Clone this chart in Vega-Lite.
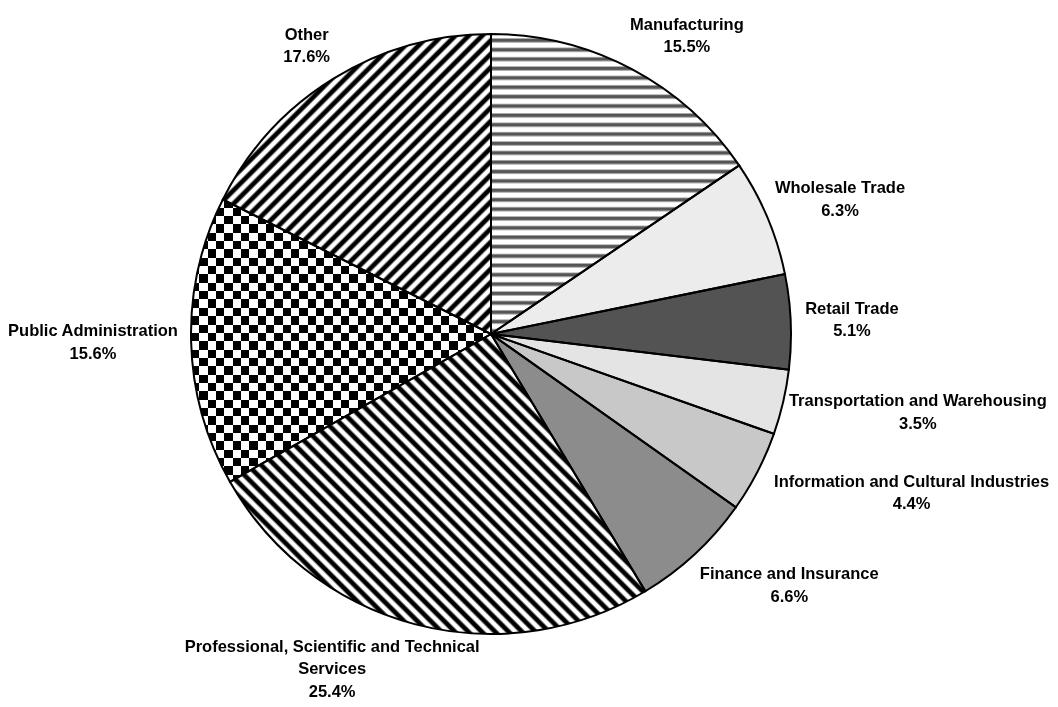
{
  "$schema": "https://vega.github.io/schema/vega-lite/v6.json",
  "width": 982,
  "height": 668,
  "autosize": "none",
  "padding": {"left": 0, "top": 0, "right": 76, "bottom": 39},
  "background": "white",
  "config": {"view": {"stroke": null}},
  "data": {
    "values": [
      {"category": "Manufacturing", "share": 15.5, "label": ["Manufacturing", "15.5%"]},
      {"category": "Wholesale Trade", "share": 6.3, "label": ["Wholesale Trade", "6.3%"]},
      {"category": "Retail Trade", "share": 5.1, "label": ["Retail Trade", "5.1%"]},
      {"category": "Transportation and Warehousing", "share": 3.5, "label": ["Transportation and Warehousing", "3.5%"]},
      {"category": "Information and Cultural Industries", "share": 4.4, "label": ["Information and Cultural Industries", "4.4%"]},
      {"category": "Finance and Insurance", "share": 6.6, "label": ["Finance and Insurance", "6.6%"]},
      {"category": "Professional, Scientific and Technical Services", "share": 25.4, "label": ["Professional, Scientific and Technical", "Services", "25.4%"]},
      {"category": "Public Administration", "share": 15.6, "label": ["Public Administration", "15.6%"]},
      {"category": "Other", "share": 17.6, "label": ["Other", "17.6%"]}
    ]
  },
  "transform": [
    {"window": [{"op": "row_number", "as": "rank"}]}
  ],
  "layer": [
    {
      "mark": {"type": "arc", "radius": 300, "strokeWidth": 0},
      "encoding": {
        "theta": {"field": "share", "type": "quantitative", "stack": true},
        "order": {"field": "rank", "type": "quantitative"},
        "fill": {
          "condition": [
            {"test": "datum.category === 'Manufacturing'", "value": {"gradient": "linear", "x1": 0, "y1": 0, "x2": 0, "y2": 1, "stops": [
              {"offset": 0, "color": "#fff"}, {"offset": 0.012, "color": "#fff"}, {"offset": 0.018, "color": "#555"}, {"offset": 0.024, "color": "#555"},
              {"offset": 0.03125, "color": "#fff"}, {"offset": 0.04325, "color": "#fff"}, {"offset": 0.04925, "color": "#555"}, {"offset": 0.05525, "color": "#555"},
              {"offset": 0.0625, "color": "#fff"}, {"offset": 0.0745, "color": "#fff"}, {"offset": 0.0805, "color": "#555"}, {"offset": 0.0865, "color": "#555"},
              {"offset": 0.09375, "color": "#fff"}, {"offset": 0.10575, "color": "#fff"}, {"offset": 0.11175, "color": "#555"}, {"offset": 0.11775, "color": "#555"},
              {"offset": 0.125, "color": "#fff"}, {"offset": 0.137, "color": "#fff"}, {"offset": 0.143, "color": "#555"}, {"offset": 0.149, "color": "#555"},
              {"offset": 0.15625, "color": "#fff"}, {"offset": 0.16825, "color": "#fff"}, {"offset": 0.17425, "color": "#555"}, {"offset": 0.18025, "color": "#555"},
              {"offset": 0.1875, "color": "#fff"}, {"offset": 0.1995, "color": "#fff"}, {"offset": 0.2055, "color": "#555"}, {"offset": 0.2115, "color": "#555"},
              {"offset": 0.21875, "color": "#fff"}, {"offset": 0.23075, "color": "#fff"}, {"offset": 0.23675, "color": "#555"}, {"offset": 0.24275, "color": "#555"},
              {"offset": 0.25, "color": "#fff"}, {"offset": 0.262, "color": "#fff"}, {"offset": 0.268, "color": "#555"}, {"offset": 0.274, "color": "#555"},
              {"offset": 0.28125, "color": "#fff"}, {"offset": 0.29325, "color": "#fff"}, {"offset": 0.29925, "color": "#555"}, {"offset": 0.30525, "color": "#555"},
              {"offset": 0.3125, "color": "#fff"}, {"offset": 0.3245, "color": "#fff"}, {"offset": 0.3305, "color": "#555"}, {"offset": 0.3365, "color": "#555"},
              {"offset": 0.34375, "color": "#fff"}, {"offset": 0.35575, "color": "#fff"}, {"offset": 0.36175, "color": "#555"}, {"offset": 0.36775, "color": "#555"},
              {"offset": 0.375, "color": "#fff"}, {"offset": 0.387, "color": "#fff"}, {"offset": 0.393, "color": "#555"}, {"offset": 0.399, "color": "#555"},
              {"offset": 0.40625, "color": "#fff"}, {"offset": 0.41825, "color": "#fff"}, {"offset": 0.42425, "color": "#555"}, {"offset": 0.43025, "color": "#555"},
              {"offset": 0.4375, "color": "#fff"}, {"offset": 0.4495, "color": "#fff"}, {"offset": 0.4555, "color": "#555"}, {"offset": 0.4615, "color": "#555"},
              {"offset": 0.46875, "color": "#fff"}, {"offset": 0.48075, "color": "#fff"}, {"offset": 0.48675, "color": "#555"}, {"offset": 0.49275, "color": "#555"},
              {"offset": 0.5, "color": "#fff"}, {"offset": 0.512, "color": "#fff"}, {"offset": 0.518, "color": "#555"}, {"offset": 0.524, "color": "#555"},
              {"offset": 0.53125, "color": "#fff"}, {"offset": 0.54325, "color": "#fff"}, {"offset": 0.54925, "color": "#555"}, {"offset": 0.55525, "color": "#555"},
              {"offset": 0.5625, "color": "#fff"}, {"offset": 0.5745, "color": "#fff"}, {"offset": 0.5805, "color": "#555"}, {"offset": 0.5865, "color": "#555"},
              {"offset": 0.59375, "color": "#fff"}, {"offset": 0.60575, "color": "#fff"}, {"offset": 0.61175, "color": "#555"}, {"offset": 0.61775, "color": "#555"},
              {"offset": 0.625, "color": "#fff"}, {"offset": 0.637, "color": "#fff"}, {"offset": 0.643, "color": "#555"}, {"offset": 0.649, "color": "#555"},
              {"offset": 0.65625, "color": "#fff"}, {"offset": 0.66825, "color": "#fff"}, {"offset": 0.67425, "color": "#555"}, {"offset": 0.68025, "color": "#555"},
              {"offset": 0.6875, "color": "#fff"}, {"offset": 0.6995, "color": "#fff"}, {"offset": 0.7055, "color": "#555"}, {"offset": 0.7115, "color": "#555"},
              {"offset": 0.71875, "color": "#fff"}, {"offset": 0.73075, "color": "#fff"}, {"offset": 0.73675, "color": "#555"}, {"offset": 0.74275, "color": "#555"},
              {"offset": 0.75, "color": "#fff"}, {"offset": 0.762, "color": "#fff"}, {"offset": 0.768, "color": "#555"}, {"offset": 0.774, "color": "#555"},
              {"offset": 0.78125, "color": "#fff"}, {"offset": 0.79325, "color": "#fff"}, {"offset": 0.79925, "color": "#555"}, {"offset": 0.80525, "color": "#555"},
              {"offset": 0.8125, "color": "#fff"}, {"offset": 0.8245, "color": "#fff"}, {"offset": 0.8305, "color": "#555"}, {"offset": 0.8365, "color": "#555"},
              {"offset": 0.84375, "color": "#fff"}, {"offset": 0.85575, "color": "#fff"}, {"offset": 0.86175, "color": "#555"}, {"offset": 0.86775, "color": "#555"},
              {"offset": 0.875, "color": "#fff"}, {"offset": 0.887, "color": "#fff"}, {"offset": 0.893, "color": "#555"}, {"offset": 0.899, "color": "#555"},
              {"offset": 0.90625, "color": "#fff"}, {"offset": 0.91825, "color": "#fff"}, {"offset": 0.92425, "color": "#555"}, {"offset": 0.93025, "color": "#555"},
              {"offset": 0.9375, "color": "#fff"}, {"offset": 0.9495, "color": "#fff"}, {"offset": 0.9555, "color": "#555"}, {"offset": 0.9615, "color": "#555"},
              {"offset": 0.96875, "color": "#fff"}, {"offset": 0.98075, "color": "#fff"}, {"offset": 0.98675, "color": "#555"}, {"offset": 0.99275, "color": "#555"},
              {"offset": 1, "color": "#fff"}
            ]}},
            {"test": "datum.category === 'Wholesale Trade'", "value": "#ececec"},
            {"test": "datum.category === 'Retail Trade'", "value": "#535353"},
            {"test": "datum.category === 'Transportation and Warehousing'", "value": "#e4e4e4"},
            {"test": "datum.category === 'Information and Cultural Industries'", "value": "#c8c8c8"},
            {"test": "datum.category === 'Finance and Insurance'", "value": "#8c8c8c"},
            {"test": "datum.category === 'Professional, Scientific and Technical Services'", "value": {"gradient": "linear", "x1": 0, "y1": 0.563, "x2": 0.85, "y2": -0.051, "stops": [
              {"offset": 0, "color": "#000"}, {"offset": 0.0075, "color": "#000"}, {"offset": 0.0125, "color": "#fff"}, {"offset": 0.02, "color": "#fff"},
              {"offset": 0.025, "color": "#000"}, {"offset": 0.0325, "color": "#000"}, {"offset": 0.0375, "color": "#fff"}, {"offset": 0.045, "color": "#fff"},
              {"offset": 0.05, "color": "#000"}, {"offset": 0.0575, "color": "#000"}, {"offset": 0.0625, "color": "#fff"}, {"offset": 0.07, "color": "#fff"},
              {"offset": 0.075, "color": "#000"}, {"offset": 0.0825, "color": "#000"}, {"offset": 0.0875, "color": "#fff"}, {"offset": 0.095, "color": "#fff"},
              {"offset": 0.1, "color": "#000"}, {"offset": 0.1075, "color": "#000"}, {"offset": 0.1125, "color": "#fff"}, {"offset": 0.12, "color": "#fff"},
              {"offset": 0.125, "color": "#000"}, {"offset": 0.1325, "color": "#000"}, {"offset": 0.1375, "color": "#fff"}, {"offset": 0.145, "color": "#fff"},
              {"offset": 0.15, "color": "#000"}, {"offset": 0.1575, "color": "#000"}, {"offset": 0.1625, "color": "#fff"}, {"offset": 0.17, "color": "#fff"},
              {"offset": 0.175, "color": "#000"}, {"offset": 0.1825, "color": "#000"}, {"offset": 0.1875, "color": "#fff"}, {"offset": 0.195, "color": "#fff"},
              {"offset": 0.2, "color": "#000"}, {"offset": 0.2075, "color": "#000"}, {"offset": 0.2125, "color": "#fff"}, {"offset": 0.22, "color": "#fff"},
              {"offset": 0.225, "color": "#000"}, {"offset": 0.2325, "color": "#000"}, {"offset": 0.2375, "color": "#fff"}, {"offset": 0.245, "color": "#fff"},
              {"offset": 0.25, "color": "#000"}, {"offset": 0.2575, "color": "#000"}, {"offset": 0.2625, "color": "#fff"}, {"offset": 0.27, "color": "#fff"},
              {"offset": 0.275, "color": "#000"}, {"offset": 0.2825, "color": "#000"}, {"offset": 0.2875, "color": "#fff"}, {"offset": 0.295, "color": "#fff"},
              {"offset": 0.3, "color": "#000"}, {"offset": 0.3075, "color": "#000"}, {"offset": 0.3125, "color": "#fff"}, {"offset": 0.32, "color": "#fff"},
              {"offset": 0.325, "color": "#000"}, {"offset": 0.3325, "color": "#000"}, {"offset": 0.3375, "color": "#fff"}, {"offset": 0.345, "color": "#fff"},
              {"offset": 0.35, "color": "#000"}, {"offset": 0.3575, "color": "#000"}, {"offset": 0.3625, "color": "#fff"}, {"offset": 0.37, "color": "#fff"},
              {"offset": 0.375, "color": "#000"}, {"offset": 0.3825, "color": "#000"}, {"offset": 0.3875, "color": "#fff"}, {"offset": 0.395, "color": "#fff"},
              {"offset": 0.4, "color": "#000"}, {"offset": 0.4075, "color": "#000"}, {"offset": 0.4125, "color": "#fff"}, {"offset": 0.42, "color": "#fff"},
              {"offset": 0.425, "color": "#000"}, {"offset": 0.4325, "color": "#000"}, {"offset": 0.4375, "color": "#fff"}, {"offset": 0.445, "color": "#fff"},
              {"offset": 0.45, "color": "#000"}, {"offset": 0.4575, "color": "#000"}, {"offset": 0.4625, "color": "#fff"}, {"offset": 0.47, "color": "#fff"},
              {"offset": 0.475, "color": "#000"}, {"offset": 0.4825, "color": "#000"}, {"offset": 0.4875, "color": "#fff"}, {"offset": 0.495, "color": "#fff"},
              {"offset": 0.5, "color": "#000"}, {"offset": 0.5075, "color": "#000"}, {"offset": 0.5125, "color": "#fff"}, {"offset": 0.52, "color": "#fff"},
              {"offset": 0.525, "color": "#000"}, {"offset": 0.5325, "color": "#000"}, {"offset": 0.5375, "color": "#fff"}, {"offset": 0.545, "color": "#fff"},
              {"offset": 0.55, "color": "#000"}, {"offset": 0.5575, "color": "#000"}, {"offset": 0.5625, "color": "#fff"}, {"offset": 0.57, "color": "#fff"},
              {"offset": 0.575, "color": "#000"}, {"offset": 0.5825, "color": "#000"}, {"offset": 0.5875, "color": "#fff"}, {"offset": 0.595, "color": "#fff"},
              {"offset": 0.6, "color": "#000"}, {"offset": 0.6075, "color": "#000"}, {"offset": 0.6125, "color": "#fff"}, {"offset": 0.62, "color": "#fff"},
              {"offset": 0.625, "color": "#000"}, {"offset": 0.6325, "color": "#000"}, {"offset": 0.6375, "color": "#fff"}, {"offset": 0.645, "color": "#fff"},
              {"offset": 0.65, "color": "#000"}, {"offset": 0.6575, "color": "#000"}, {"offset": 0.6625, "color": "#fff"}, {"offset": 0.67, "color": "#fff"},
              {"offset": 0.675, "color": "#000"}, {"offset": 0.6825, "color": "#000"}, {"offset": 0.6875, "color": "#fff"}, {"offset": 0.695, "color": "#fff"},
              {"offset": 0.7, "color": "#000"}, {"offset": 0.7075, "color": "#000"}, {"offset": 0.7125, "color": "#fff"}, {"offset": 0.72, "color": "#fff"},
              {"offset": 0.725, "color": "#000"}, {"offset": 0.7325, "color": "#000"}, {"offset": 0.7375, "color": "#fff"}, {"offset": 0.745, "color": "#fff"},
              {"offset": 0.75, "color": "#000"}, {"offset": 0.7575, "color": "#000"}, {"offset": 0.7625, "color": "#fff"}, {"offset": 0.77, "color": "#fff"},
              {"offset": 0.775, "color": "#000"}, {"offset": 0.7825, "color": "#000"}, {"offset": 0.7875, "color": "#fff"}, {"offset": 0.795, "color": "#fff"},
              {"offset": 0.8, "color": "#000"}, {"offset": 0.8075, "color": "#000"}, {"offset": 0.8125, "color": "#fff"}, {"offset": 0.82, "color": "#fff"},
              {"offset": 0.825, "color": "#000"}, {"offset": 0.8325, "color": "#000"}, {"offset": 0.8375, "color": "#fff"}, {"offset": 0.845, "color": "#fff"},
              {"offset": 0.85, "color": "#000"}, {"offset": 0.8575, "color": "#000"}, {"offset": 0.8625, "color": "#fff"}, {"offset": 0.87, "color": "#fff"},
              {"offset": 0.875, "color": "#000"}, {"offset": 0.8825, "color": "#000"}, {"offset": 0.8875, "color": "#fff"}, {"offset": 0.895, "color": "#fff"},
              {"offset": 0.9, "color": "#000"}
            ]}},
            {"test": "datum.category === 'Public Administration'", "value": {"gradient": "linear", "x1": 0, "y1": 0, "x2": 1, "y2": 0, "stops": [
              {"offset": 0, "color": "#000"}, {"offset": 0.02778, "color": "#000"}, {"offset": 0.02778, "color": "#fff"}, {"offset": 0.05556, "color": "#fff"},
              {"offset": 0.05556, "color": "#000"}, {"offset": 0.08333, "color": "#000"}, {"offset": 0.08333, "color": "#fff"}, {"offset": 0.11111, "color": "#fff"},
              {"offset": 0.11111, "color": "#000"}, {"offset": 0.13889, "color": "#000"}, {"offset": 0.13889, "color": "#fff"}, {"offset": 0.16667, "color": "#fff"},
              {"offset": 0.16667, "color": "#000"}, {"offset": 0.19444, "color": "#000"}, {"offset": 0.19444, "color": "#fff"}, {"offset": 0.22222, "color": "#fff"},
              {"offset": 0.22222, "color": "#000"}, {"offset": 0.25, "color": "#000"}, {"offset": 0.25, "color": "#fff"}, {"offset": 0.27778, "color": "#fff"},
              {"offset": 0.27778, "color": "#000"}, {"offset": 0.30556, "color": "#000"}, {"offset": 0.30556, "color": "#fff"}, {"offset": 0.33333, "color": "#fff"},
              {"offset": 0.33333, "color": "#000"}, {"offset": 0.36111, "color": "#000"}, {"offset": 0.36111, "color": "#fff"}, {"offset": 0.38889, "color": "#fff"},
              {"offset": 0.38889, "color": "#000"}, {"offset": 0.41667, "color": "#000"}, {"offset": 0.41667, "color": "#fff"}, {"offset": 0.44444, "color": "#fff"},
              {"offset": 0.44444, "color": "#000"}, {"offset": 0.47222, "color": "#000"}, {"offset": 0.47222, "color": "#fff"}, {"offset": 0.5, "color": "#fff"},
              {"offset": 0.5, "color": "#000"}, {"offset": 0.52778, "color": "#000"}, {"offset": 0.52778, "color": "#fff"}, {"offset": 0.55556, "color": "#fff"},
              {"offset": 0.55556, "color": "#000"}, {"offset": 0.58333, "color": "#000"}, {"offset": 0.58333, "color": "#fff"}, {"offset": 0.61111, "color": "#fff"},
              {"offset": 0.61111, "color": "#000"}, {"offset": 0.63889, "color": "#000"}, {"offset": 0.63889, "color": "#fff"}, {"offset": 0.66667, "color": "#fff"},
              {"offset": 0.66667, "color": "#000"}, {"offset": 0.69444, "color": "#000"}, {"offset": 0.69444, "color": "#fff"}, {"offset": 0.72222, "color": "#fff"},
              {"offset": 0.72222, "color": "#000"}, {"offset": 0.75, "color": "#000"}, {"offset": 0.75, "color": "#fff"}, {"offset": 0.77778, "color": "#fff"},
              {"offset": 0.77778, "color": "#000"}, {"offset": 0.80556, "color": "#000"}, {"offset": 0.80556, "color": "#fff"}, {"offset": 0.83333, "color": "#fff"},
              {"offset": 0.83333, "color": "#000"}, {"offset": 0.86111, "color": "#000"}, {"offset": 0.86111, "color": "#fff"}, {"offset": 0.88889, "color": "#fff"},
              {"offset": 0.88889, "color": "#000"}, {"offset": 0.91667, "color": "#000"}, {"offset": 0.91667, "color": "#fff"}, {"offset": 0.94444, "color": "#fff"},
              {"offset": 0.94444, "color": "#000"}, {"offset": 0.97222, "color": "#000"}, {"offset": 0.97222, "color": "#fff"}, {"offset": 1, "color": "#fff"}
            ]}},
            {"test": "datum.category === 'Other'", "value": {"gradient": "linear", "x1": 0, "y1": 0.4603, "x2": 0.89, "y2": 1.456, "stops": [
              {"offset": 0, "color": "#000"}, {"offset": 0.0075, "color": "#000"}, {"offset": 0.0125, "color": "#fff"}, {"offset": 0.02, "color": "#fff"},
              {"offset": 0.025, "color": "#000"}, {"offset": 0.0325, "color": "#000"}, {"offset": 0.0375, "color": "#fff"}, {"offset": 0.045, "color": "#fff"},
              {"offset": 0.05, "color": "#000"}, {"offset": 0.0575, "color": "#000"}, {"offset": 0.0625, "color": "#fff"}, {"offset": 0.07, "color": "#fff"},
              {"offset": 0.075, "color": "#000"}, {"offset": 0.0825, "color": "#000"}, {"offset": 0.0875, "color": "#fff"}, {"offset": 0.095, "color": "#fff"},
              {"offset": 0.1, "color": "#000"}, {"offset": 0.1075, "color": "#000"}, {"offset": 0.1125, "color": "#fff"}, {"offset": 0.12, "color": "#fff"},
              {"offset": 0.125, "color": "#000"}, {"offset": 0.1325, "color": "#000"}, {"offset": 0.1375, "color": "#fff"}, {"offset": 0.145, "color": "#fff"},
              {"offset": 0.15, "color": "#000"}, {"offset": 0.1575, "color": "#000"}, {"offset": 0.1625, "color": "#fff"}, {"offset": 0.17, "color": "#fff"},
              {"offset": 0.175, "color": "#000"}, {"offset": 0.1825, "color": "#000"}, {"offset": 0.1875, "color": "#fff"}, {"offset": 0.195, "color": "#fff"},
              {"offset": 0.2, "color": "#000"}, {"offset": 0.2075, "color": "#000"}, {"offset": 0.2125, "color": "#fff"}, {"offset": 0.22, "color": "#fff"},
              {"offset": 0.225, "color": "#000"}, {"offset": 0.2325, "color": "#000"}, {"offset": 0.2375, "color": "#fff"}, {"offset": 0.245, "color": "#fff"},
              {"offset": 0.25, "color": "#000"}, {"offset": 0.2575, "color": "#000"}, {"offset": 0.2625, "color": "#fff"}, {"offset": 0.27, "color": "#fff"},
              {"offset": 0.275, "color": "#000"}, {"offset": 0.2825, "color": "#000"}, {"offset": 0.2875, "color": "#fff"}, {"offset": 0.295, "color": "#fff"},
              {"offset": 0.3, "color": "#000"}, {"offset": 0.3075, "color": "#000"}, {"offset": 0.3125, "color": "#fff"}, {"offset": 0.32, "color": "#fff"},
              {"offset": 0.325, "color": "#000"}, {"offset": 0.3325, "color": "#000"}, {"offset": 0.3375, "color": "#fff"}, {"offset": 0.345, "color": "#fff"},
              {"offset": 0.35, "color": "#000"}, {"offset": 0.3575, "color": "#000"}, {"offset": 0.3625, "color": "#fff"}, {"offset": 0.37, "color": "#fff"},
              {"offset": 0.375, "color": "#000"}, {"offset": 0.3825, "color": "#000"}, {"offset": 0.3875, "color": "#fff"}, {"offset": 0.395, "color": "#fff"},
              {"offset": 0.4, "color": "#000"}, {"offset": 0.4075, "color": "#000"}, {"offset": 0.4125, "color": "#fff"}, {"offset": 0.42, "color": "#fff"},
              {"offset": 0.425, "color": "#000"}, {"offset": 0.4325, "color": "#000"}, {"offset": 0.4375, "color": "#fff"}, {"offset": 0.445, "color": "#fff"},
              {"offset": 0.45, "color": "#000"}, {"offset": 0.4575, "color": "#000"}, {"offset": 0.4625, "color": "#fff"}, {"offset": 0.47, "color": "#fff"},
              {"offset": 0.475, "color": "#000"}, {"offset": 0.4825, "color": "#000"}, {"offset": 0.4875, "color": "#fff"}, {"offset": 0.495, "color": "#fff"},
              {"offset": 0.5, "color": "#000"}, {"offset": 0.5075, "color": "#000"}, {"offset": 0.5125, "color": "#fff"}, {"offset": 0.52, "color": "#fff"},
              {"offset": 0.525, "color": "#000"}, {"offset": 0.5325, "color": "#000"}, {"offset": 0.5375, "color": "#fff"}, {"offset": 0.545, "color": "#fff"},
              {"offset": 0.55, "color": "#000"}, {"offset": 0.5575, "color": "#000"}, {"offset": 0.5625, "color": "#fff"}, {"offset": 0.57, "color": "#fff"},
              {"offset": 0.575, "color": "#000"}, {"offset": 0.5825, "color": "#000"}, {"offset": 0.5875, "color": "#fff"}, {"offset": 0.595, "color": "#fff"},
              {"offset": 0.6, "color": "#000"}, {"offset": 0.6075, "color": "#000"}, {"offset": 0.6125, "color": "#fff"}, {"offset": 0.62, "color": "#fff"},
              {"offset": 0.625, "color": "#000"}, {"offset": 0.6325, "color": "#000"}, {"offset": 0.6375, "color": "#fff"}, {"offset": 0.645, "color": "#fff"},
              {"offset": 0.65, "color": "#000"}, {"offset": 0.6575, "color": "#000"}, {"offset": 0.6625, "color": "#fff"}, {"offset": 0.67, "color": "#fff"},
              {"offset": 0.675, "color": "#000"}, {"offset": 0.6825, "color": "#000"}, {"offset": 0.6875, "color": "#fff"}, {"offset": 0.695, "color": "#fff"},
              {"offset": 0.7, "color": "#000"}, {"offset": 0.7075, "color": "#000"}, {"offset": 0.7125, "color": "#fff"}, {"offset": 0.72, "color": "#fff"},
              {"offset": 0.725, "color": "#000"}, {"offset": 0.7325, "color": "#000"}, {"offset": 0.7375, "color": "#fff"}, {"offset": 0.745, "color": "#fff"},
              {"offset": 0.75, "color": "#000"}, {"offset": 0.7575, "color": "#000"}, {"offset": 0.7625, "color": "#fff"}, {"offset": 0.77, "color": "#fff"},
              {"offset": 0.775, "color": "#000"}, {"offset": 0.7825, "color": "#000"}, {"offset": 0.7875, "color": "#fff"}, {"offset": 0.795, "color": "#fff"},
              {"offset": 0.8, "color": "#000"}, {"offset": 0.8075, "color": "#000"}, {"offset": 0.8125, "color": "#fff"}, {"offset": 0.82, "color": "#fff"},
              {"offset": 0.825, "color": "#000"}, {"offset": 0.8325, "color": "#000"}, {"offset": 0.8375, "color": "#fff"}, {"offset": 0.845, "color": "#fff"},
              {"offset": 0.85, "color": "#000"}, {"offset": 0.8575, "color": "#000"}, {"offset": 0.8625, "color": "#fff"}, {"offset": 0.87, "color": "#fff"},
              {"offset": 0.875, "color": "#000"}, {"offset": 0.8825, "color": "#000"}, {"offset": 0.8875, "color": "#fff"}, {"offset": 0.895, "color": "#fff"},
              {"offset": 0.9, "color": "#000"}
            ]}}
          ],
          "value": "#cccccc"
        }
      }
    },
    {
      "mark": {"type": "arc", "radius": 300, "strokeWidth": 0, "blend": "difference"},
      "encoding": {
        "theta": {"field": "share", "type": "quantitative", "stack": true},
        "order": {"field": "rank", "type": "quantitative"},
        "fill": {
          "condition": {"test": "datum.category === 'Public Administration'", "value": {"gradient": "linear", "x1": 0, "y1": 0, "x2": 0, "y2": 1.0627, "stops": [
              {"offset": 0, "color": "#000"}, {"offset": 0.02778, "color": "#000"}, {"offset": 0.02778, "color": "#fff"}, {"offset": 0.05556, "color": "#fff"},
              {"offset": 0.05556, "color": "#000"}, {"offset": 0.08333, "color": "#000"}, {"offset": 0.08333, "color": "#fff"}, {"offset": 0.11111, "color": "#fff"},
              {"offset": 0.11111, "color": "#000"}, {"offset": 0.13889, "color": "#000"}, {"offset": 0.13889, "color": "#fff"}, {"offset": 0.16667, "color": "#fff"},
              {"offset": 0.16667, "color": "#000"}, {"offset": 0.19444, "color": "#000"}, {"offset": 0.19444, "color": "#fff"}, {"offset": 0.22222, "color": "#fff"},
              {"offset": 0.22222, "color": "#000"}, {"offset": 0.25, "color": "#000"}, {"offset": 0.25, "color": "#fff"}, {"offset": 0.27778, "color": "#fff"},
              {"offset": 0.27778, "color": "#000"}, {"offset": 0.30556, "color": "#000"}, {"offset": 0.30556, "color": "#fff"}, {"offset": 0.33333, "color": "#fff"},
              {"offset": 0.33333, "color": "#000"}, {"offset": 0.36111, "color": "#000"}, {"offset": 0.36111, "color": "#fff"}, {"offset": 0.38889, "color": "#fff"},
              {"offset": 0.38889, "color": "#000"}, {"offset": 0.41667, "color": "#000"}, {"offset": 0.41667, "color": "#fff"}, {"offset": 0.44444, "color": "#fff"},
              {"offset": 0.44444, "color": "#000"}, {"offset": 0.47222, "color": "#000"}, {"offset": 0.47222, "color": "#fff"}, {"offset": 0.5, "color": "#fff"},
              {"offset": 0.5, "color": "#000"}, {"offset": 0.52778, "color": "#000"}, {"offset": 0.52778, "color": "#fff"}, {"offset": 0.55556, "color": "#fff"},
              {"offset": 0.55556, "color": "#000"}, {"offset": 0.58333, "color": "#000"}, {"offset": 0.58333, "color": "#fff"}, {"offset": 0.61111, "color": "#fff"},
              {"offset": 0.61111, "color": "#000"}, {"offset": 0.63889, "color": "#000"}, {"offset": 0.63889, "color": "#fff"}, {"offset": 0.66667, "color": "#fff"},
              {"offset": 0.66667, "color": "#000"}, {"offset": 0.69444, "color": "#000"}, {"offset": 0.69444, "color": "#fff"}, {"offset": 0.72222, "color": "#fff"},
              {"offset": 0.72222, "color": "#000"}, {"offset": 0.75, "color": "#000"}, {"offset": 0.75, "color": "#fff"}, {"offset": 0.77778, "color": "#fff"},
              {"offset": 0.77778, "color": "#000"}, {"offset": 0.80556, "color": "#000"}, {"offset": 0.80556, "color": "#fff"}, {"offset": 0.83333, "color": "#fff"},
              {"offset": 0.83333, "color": "#000"}, {"offset": 0.86111, "color": "#000"}, {"offset": 0.86111, "color": "#fff"}, {"offset": 0.88889, "color": "#fff"},
              {"offset": 0.88889, "color": "#000"}, {"offset": 0.91667, "color": "#000"}, {"offset": 0.91667, "color": "#fff"}, {"offset": 0.94444, "color": "#fff"},
              {"offset": 0.94444, "color": "#000"}, {"offset": 0.97222, "color": "#000"}, {"offset": 0.97222, "color": "#fff"}, {"offset": 1, "color": "#fff"}
          ]}},
          "value": "transparent"
        }
      }
    },
    {
      "mark": {"type": "arc", "radius": 300, "filled": false, "stroke": "#000", "strokeWidth": 2},
      "encoding": {
        "theta": {"field": "share", "type": "quantitative", "stack": true},
        "order": {"field": "rank", "type": "quantitative"}
      }
    },
    {
      "mark": {
        "type": "text",
        "radius": 312,
        "font": "'Liberation Sans', Arial, sans-serif",
        "fontWeight": "bold",
        "fontSize": 16.5,
        "lineHeight": 22.5,
        "color": "#000",
        "align": "center",
        "baseline": "middle",
        "dx": {"expr": "clamp(2 * sin((datum.share_start + datum.share_end) * PI / 100), -1, 1) * length(datum.label[0]) * 4.1"},
        "dy": {"expr": "-clamp(1.5 * cos((datum.share_start + datum.share_end) * PI / 100), -1, 1) * length(datum.label) * 11.25 - (length(datum.label) - 1) * 11.25"}
      },
      "encoding": {
        "theta": {"field": "share", "type": "quantitative", "stack": true},
        "order": {"field": "rank", "type": "quantitative"},
        "text": {"field": "label", "type": "nominal"}
      }
    }
  ]
}
